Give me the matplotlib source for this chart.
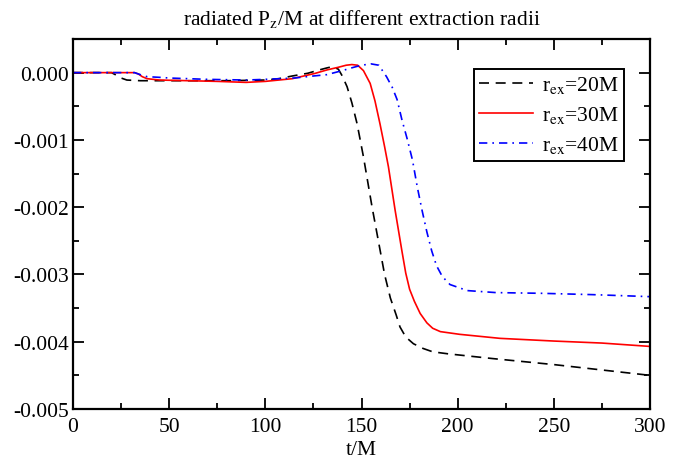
import matplotlib
matplotlib.use("Agg")
import matplotlib.pyplot as plt
from matplotlib.ticker import MultipleLocator, FormatStrFormatter

plt.rcParams['font.family'] = 'Liberation Serif'
plt.rcParams['mathtext.fontset'] = 'stix'
plt.rcParams['axes.unicode_minus'] = False

# r_ex = 20M
t20 = [0, 20, 22, 25, 28, 35, 60, 80, 100, 107, 114, 122, 128, 132, 135, 138, 140,
       142.5, 145, 147.7, 151, 155.5, 159.6, 162, 165, 168, 170, 173, 177, 182, 187,
       195, 218, 250, 275, 300]
p20 = [0, 0, -0.00003, -0.00008, -0.00011, -0.00012, -0.00012, -0.00012, -0.00011,
       -0.00009, -0.00005, -0.00001, 0.00004, 0.00007, 0.00009, 0.00005, -0.00005,
       -0.00021, -0.00045, -0.00076, -0.00125, -0.002, -0.00263, -0.0030, -0.00335,
       -0.0036, -0.00378, -0.00393, -0.00403, -0.0041, -0.00415, -0.00418, -0.00425,
       -0.00434, -0.00442, -0.0045]

# r_ex = 30M
t30 = [0, 32, 34, 36, 38.5, 45, 60, 75, 90, 100, 107, 114, 120, 126, 132, 138, 142,
       145, 148, 151, 154.5, 157, 159.6, 162, 164, 167.5, 171, 173, 175, 177.5, 180.5,
       184, 187, 191, 201, 222, 250, 275, 300]
p30 = [0, 0, -0.00002, -0.00006, -0.00009, -0.00011, -0.00012, -0.00013, -0.000145,
       -0.00013, -0.00011, -0.00009, -0.00005, -0.00001, 0.00004, 0.00008, 0.00011,
       0.00012, 0.00011, 0.00003, -0.00016, -0.00042, -0.00076, -0.0011, -0.0014,
       -0.00205, -0.00265, -0.00298, -0.00322, -0.0034, -0.00358, -0.00372, -0.0038,
       -0.00385, -0.00389, -0.00395, -0.00399, -0.00402, -0.00407]

# r_ex = 40M
t40 = [0, 32, 35, 38.5, 45, 50, 70, 90, 100, 115, 125, 132, 140, 146, 150, 155, 159,
       163, 166, 168.5, 171, 173.7, 176.5, 179, 181.5, 184, 186.5, 189, 192, 196, 205,
       220, 243, 270, 300]
p40 = [0, 0, -0.00003, -0.00006, -0.00007, -0.00008, -0.0001, -0.00011, -0.0001,
       -0.00008, -0.00005, -0.00003, 0.00003, 0.00008, 0.00011, 0.00013, 0.00011,
       -0.00006, -0.00022, -0.0004, -0.0007, -0.00098, -0.0013, -0.0017, -0.00205,
       -0.00237, -0.00265, -0.00287, -0.00303, -0.00315, -0.00324, -0.00327, -0.00328,
       -0.0033, -0.00333]

fig = plt.figure(figsize=(6.81, 4.64), dpi=100)
ax = fig.add_axes([0.1072, 0.1164, 0.8473, 0.7974])

ax.plot(t20, p20, color='black', lw=1.2, dashes=(6, 4), label=r'r$_\mathrm{ex}$=20M')
ax.plot(t30, p30, color='red', lw=1.2, label=r'r$_\mathrm{ex}$=30M')
ax.plot(t40, p40, color='blue', lw=1.2, dashes=(5, 3, 1, 3), label=r'r$_\mathrm{ex}$=40M')

ax.set_xlim(0, 300)
ax.set_ylim(-0.005, 0.0005)
ax.xaxis.set_major_locator(MultipleLocator(50))
ax.xaxis.set_minor_locator(MultipleLocator(25))
ax.yaxis.set_major_locator(MultipleLocator(0.001))
ax.yaxis.set_minor_locator(MultipleLocator(0.0005))
ax.yaxis.set_major_formatter(FormatStrFormatter('%.3f'))
ax.tick_params(which='both', direction='in', top=True, right=True, labelsize=15.5, width=1.3)
ax.tick_params(which='major', length=8, pad=3)
ax.tick_params(which='minor', length=4)
ax.tick_params(axis='x', which='major', pad=6)
for s in ax.spines.values():
    s.set_linewidth(1.6)

ax.set_xlabel('t/M', fontsize=15.5, labelpad=3)
ax.set_title(r'radiated P$_\mathrm{z}$/M at different extraction radii', fontsize=15.5, pad=11)

leg = ax.legend(loc='upper right', bbox_to_anchor=(0.955, 0.919), borderaxespad=0,
                fancybox=False, framealpha=1, edgecolor='black', fontsize=15.5,
                handlelength=2.5, labelspacing=0.42, handletextpad=0.4, borderpad=0.25)
leg.get_frame().set_linewidth(1.4)

fig.savefig('out.png', dpi=100)
